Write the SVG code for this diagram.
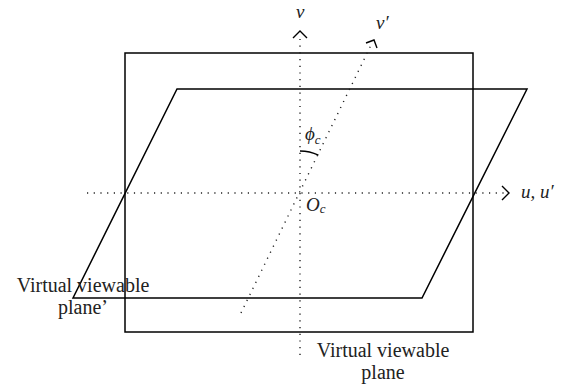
<svg xmlns="http://www.w3.org/2000/svg" width="570" height="385" viewBox="0 0 570 385">
<style>
.solid{fill:none;stroke:#000;stroke-width:1.5}
.dot{fill:none;stroke:#222;stroke-width:1.4;stroke-dasharray:1.2 5.5}
.head{fill:none;stroke:#000;stroke-width:1.4}
.lbl{font-family:"Liberation Serif",serif;font-size:20px;fill:#222}
.it{font-family:"Liberation Serif",serif;font-style:italic;font-size:19px;fill:#222}
.sub{font-size:13px}
</style>
<rect width="570" height="385" fill="#fff"/>
<g id="plane">
<rect class="solid" x="125" y="53" width="348" height="279"/>
<text class="lbl" x="383" y="357" text-anchor="middle">Virtual viewable</text>
<text class="lbl" x="383" y="379" text-anchor="middle">plane</text>
</g>
<g id="plane-prime">
<polygon class="solid" points="177,89 527,89 422,298 73,298"/>
<text class="lbl" x="83" y="292" text-anchor="middle">Virtual viewable</text>
<text class="lbl" x="83" y="314" text-anchor="middle">plane’</text>
</g>
<g id="connectors">
<line class="dot" x1="300" y1="355" x2="300" y2="35"/>
<polyline class="head" points="293,38 300,31 307,38"/>
<line class="dot" x1="87" y1="193" x2="506" y2="193"/>
<polyline class="head" points="502,186 509,193 502,200"/>
<line class="dot" x1="241" y1="313" x2="372" y2="43"/>
<polyline class="head" points="366,43 374,40 377,48"/>
<path class="head" d="M300,151 A42,42 0 0 1 318.4,155.2"/>
</g>
<g id="labels">
<text class="it" x="296" y="18">v</text>
<text class="it" x="376" y="29">v′</text>
<text class="it" x="521" y="198">u, u′</text>
<text class="it" x="305" y="140">ϕ<tspan class="sub" dy="4">c</tspan></text>
<text class="it" x="306" y="211">O<tspan class="sub" dy="2">c</tspan></text>
</g>
</svg>
